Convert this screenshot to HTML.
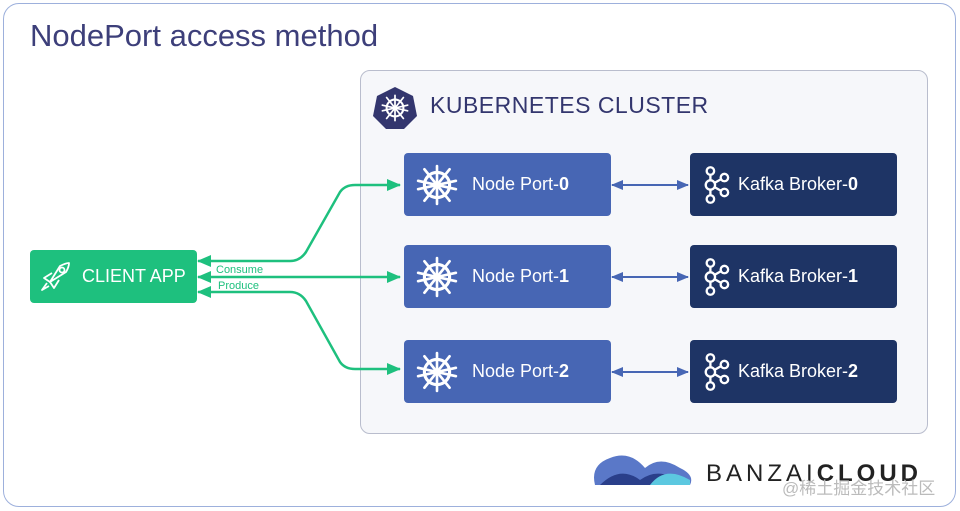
<!DOCTYPE html>
<html><head><meta charset="utf-8"><style>
body{margin:0;width:960px;height:511px;background:#fff;position:relative;overflow:hidden;font-family:"Liberation Sans","Noto Sans CJK SC",sans-serif}
.outer{position:absolute;left:3px;top:3px;width:951px;height:502px;border:1.5px solid #9db0dc;border-radius:16px}
.title{position:absolute;left:30px;top:18px;font-size:31px;color:#3d3f7a}
.cluster{position:absolute;left:360px;top:70px;width:566px;height:362px;background:#f6f7fa;border:1px solid #b9bdcd;border-radius:10px}
.ct{position:absolute;left:430px;top:92px;font-size:23px;color:#33366e;letter-spacing:.5px}
.box{position:absolute;width:207px;height:63px;border-radius:4px;color:#fff;font-size:18px;display:flex;align-items:center}
.np{background:#4766b4;left:404px}
.kb{background:#1e3465;left:690px}
.client{position:absolute;left:30px;top:250px;width:167px;height:53px;background:#1ec07e;border-radius:4px;color:#fff;font-size:18px;display:flex;align-items:center}
</style></head><body>
<div class="outer"></div>
<div class="title">NodePort access method</div>
<div class="cluster"></div>
<svg width="0" height="0" style="position:absolute"><defs>
<symbol id="k8" viewBox="0 0 40 40"><circle cx="20" cy="20" r="12" fill="none" stroke="#fff" stroke-width="3"/><circle cx="20" cy="20" r="3.5" fill="#fff"/><g stroke="#fff" stroke-width="2.5" stroke-linecap="round"><line x1="20" y1="2" x2="20" y2="38"/><line x1="2" y1="16" x2="38" y2="24"/><line x1="38" y1="16" x2="2" y2="24"/><line x1="8" y1="35" x2="32" y2="5"/><line x1="32" y1="35" x2="8" y2="5"/></g></symbol>
<symbol id="kf" viewBox="0 0 30 40"><g fill="none" stroke="#fff" stroke-width="2.5"><circle cx="9" cy="5" r="4"/><circle cx="9" cy="20" r="5"/><circle cx="9" cy="35" r="4"/><circle cx="24" cy="12" r="4"/><circle cx="24" cy="28" r="4"/><line x1="9" y1="9" x2="9" y2="15"/><line x1="9" y1="25" x2="9" y2="31"/><line x1="13" y1="18" x2="20" y2="14"/><line x1="13" y1="22" x2="20" y2="26"/></g></symbol>
</defs></svg>
<svg style="position:absolute;left:372px;top:86px" width="46" height="44" viewBox="0 0 46 44"><polygon points="23,1 41,10 45,30 32,43 14,43 1,30 5,10" fill="#33366e"/><use href="#k8" x="9" y="8" width="28" height="28"/></svg>
<div class="ct">KUBERNETES CLUSTER</div>
<svg width="960" height="511" style="position:absolute;left:0;top:0">
<defs><marker id="g" markerUnits="userSpaceOnUse" markerWidth="14" markerHeight="12" refX="13" refY="6" orient="auto-start-reverse"><path d="M0,0 L14,6 L0,12z" fill="#1ec07e"/></marker>
<marker id="b" markerUnits="userSpaceOnUse" markerWidth="12" markerHeight="10" refX="11" refY="5" orient="auto-start-reverse"><path d="M0,0 L12,5 L0,10z" fill="#4766b4"/></marker></defs>
<g fill="none" stroke="#1ec07e" stroke-width="2.5">
<path d="M198,261 L290,261 Q300,261 306,252 L340,192 Q345,185 355,185 L400,185" marker-start="url(#g)" marker-end="url(#g)"/>
<path d="M198,277 L400,277" marker-start="url(#g)" marker-end="url(#g)"/>
<path d="M198,292 L290,292 Q300,292 306,301 L340,362 Q345,369 355,369 L400,369" marker-start="url(#g)" marker-end="url(#g)"/>
</g>
<g stroke="#4766b4" stroke-width="2">
<line x1="612" y1="185" x2="688" y2="185" marker-start="url(#b)" marker-end="url(#b)"/>
<line x1="612" y1="277" x2="688" y2="277" marker-start="url(#b)" marker-end="url(#b)"/>
<line x1="612" y1="372" x2="688" y2="372" marker-start="url(#b)" marker-end="url(#b)"/>
</g>
<text x="216" y="273" font-size="11" fill="#1ec07e" font-family="Liberation Sans">Consume</text>
<text x="218" y="289" font-size="11" fill="#1ec07e" font-family="Liberation Sans">Produce</text>
</svg>
<div class="client"><svg style="margin-left:8px" width="34" height="34" viewBox="0 0 34 34"><g fill="none" stroke="#fff" stroke-width="1.8" stroke-linejoin="round"><path d="M12,22 L22,6 Q28,3 31,3 Q31,7 28,12 L12,22z"/><circle cx="24" cy="10" r="2.5"/><path d="M12,22 L6,18 L14,13"/><path d="M12,22 L16,28 L21,20"/><path d="M9,23 L4,30 L11,26"/></g></svg><span style="margin-left:10px">CLIENT APP</span></div>
<div class="box np" style="top:153px"><svg style="margin-left:12px" width="42" height="42"><use href="#k8" width="42" height="42"/></svg><span style="margin-left:14px">Node Port-<b>0</b></span></div>
<div class="box np" style="top:245px"><svg style="margin-left:12px" width="42" height="42"><use href="#k8" width="42" height="42"/></svg><span style="margin-left:14px">Node Port-<b>1</b></span></div>
<div class="box np" style="top:340px"><svg style="margin-left:12px" width="42" height="42"><use href="#k8" width="42" height="42"/></svg><span style="margin-left:14px">Node Port-<b>2</b></span></div>
<div class="box kb" style="top:153px"><svg style="margin-left:12px" width="28" height="38"><use href="#kf" width="28" height="38"/></svg><span style="margin-left:8px">Kafka Broker-<b>0</b></span></div>
<div class="box kb" style="top:245px"><svg style="margin-left:12px" width="28" height="38"><use href="#kf" width="28" height="38"/></svg><span style="margin-left:8px">Kafka Broker-<b>1</b></span></div>
<div class="box kb" style="top:340px"><svg style="margin-left:12px" width="28" height="38"><use href="#kf" width="28" height="38"/></svg><span style="margin-left:8px">Kafka Broker-<b>2</b></span></div>
<svg style="position:absolute;left:590px;top:450px" width="105" height="40"><path d="M5,35 Q0,15 20,8 Q40,0 55,18 Q70,5 90,18 Q105,25 100,35z" fill="#5a78c8"/><path d="M10,35 Q30,15 50,30 Q70,15 95,35z" fill="#2a3f8a"/><path d="M60,35 Q75,15 100,30 L100,35z" fill="#5cc8e0"/></svg>
<div style="position:absolute;left:706px;top:460px;font-size:24px;letter-spacing:4px;color:#222">BANZAI<b>CLOUD</b></div>
<div style="position:absolute;left:782px;top:474px;font-size:17px;color:#bbb">@稀土掘金技术社区</div>
</body></html>
